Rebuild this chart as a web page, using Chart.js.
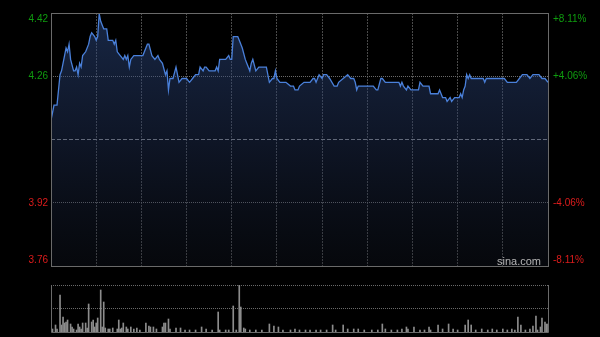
<!DOCTYPE html>
<html>
<head>
<meta charset="utf-8">
<script src="https://cdn.jsdelivr.net/npm/chart.js@4.4.1/dist/chart.umd.min.js"></script>
<style>
body{margin:0;background:#000;}
#wrap{position:relative;width:600px;height:337px;}
canvas{position:absolute;left:0;top:0;}
#logo{position:absolute;left:497px;top:255px;font:11px "Liberation Sans",Arial,sans-serif;color:#b5b5b5;}
</style>
</head>
<body>
<div id="wrap">
<canvas id="volChart" width="600" height="337"></canvas>
<canvas id="priceChart" width="600" height="337"></canvas>
<div id="logo">sina.com</div>
</div>
<script>
// intraday, minutes from open (0..330)
let prevClose=4.09
let pctLevels=[0.0811,0.0406,0,-0.0406,-0.0811]
let leftLabels=['4.42','4.26','','3.92','3.76']
let rightLabels=['+8.11%','+4.06%','','-4.06%','-8.11%']

let minutes=[0,2,4,6,7,9,10,11,12,13,15,16,17,18,19,20,21,23,25,26,27,29,30,31,32,33,35,37,38,41,42,43,44,46,48,49,50,51,52,53,55,61,63,64,65,67,69,71,72,74,76,77,78,79,81,83,85,87,90,92,94,96,98,99,101,102,103,105,109,110,111,112,116,118,119,120,121,124,125,127,129,130,132,133,134,136,138,143,145,147,148,149,150,152,156,159,161,162,164,165,168,172,174,175,176,178,180,181,183,185,188,190,191,194,197,199,201,202,203,204,214,216,217,219,220,222,231,232,233,234,236,237,239,244,245,247,251,252,257,258,259,260,262,263,265,266,268,269,271,272,273,274,275,276,277,278,279,287,288,289,301,303,309,311,313,316,318,320,324,326,328,330]
let prices=[4.14,4.18,4.18,4.26,4.27,4.31,4.33,4.32,4.34,4.30,4.27,4.27,4.28,4.26,4.29,4.28,4.31,4.32,4.34,4.36,4.37,4.36,4.35,4.36,4.42,4.40,4.38,4.38,4.35,4.35,4.34,4.35,4.32,4.31,4.30,4.31,4.30,4.31,4.28,4.30,4.31,4.31,4.33,4.34,4.34,4.31,4.30,4.31,4.30,4.29,4.26,4.27,4.22,4.25,4.25,4.28,4.24,4.25,4.25,4.24,4.25,4.26,4.26,4.28,4.27,4.28,4.28,4.27,4.27,4.28,4.27,4.30,4.30,4.31,4.30,4.30,4.36,4.36,4.35,4.33,4.30,4.29,4.27,4.29,4.30,4.27,4.28,4.28,4.24,4.25,4.25,4.27,4.25,4.24,4.24,4.23,4.23,4.22,4.22,4.23,4.24,4.24,4.25,4.25,4.24,4.26,4.25,4.26,4.26,4.25,4.23,4.23,4.24,4.25,4.26,4.25,4.25,4.24,4.22,4.23,4.23,4.22,4.22,4.25,4.25,4.24,4.24,4.23,4.24,4.23,4.22,4.23,4.22,4.22,4.24,4.23,4.23,4.21,4.21,4.22,4.21,4.20,4.20,4.19,4.20,4.19,4.20,4.20,4.20,4.21,4.20,4.22,4.23,4.26,4.25,4.26,4.25,4.25,4.24,4.25,4.25,4.24,4.24,4.25,4.26,4.26,4.25,4.26,4.26,4.25,4.25,4.24]

let volMinutes=[0,1,3,4,6,7,8,9,10,11,13,14,15,17,18,19,20,21,23,24,25,27,28,29,30,31,33,34,35,36,38,39,41,44,45,46,47,48,50,51,53,55,57,59,63,65,66,68,70,74,75,76,78,79,83,86,89,92,96,100,103,107,111,112,116,118,121,123,125,126,128,129,132,136,140,145,148,151,154,159,162,165,169,172,176,179,183,187,189,194,197,201,204,208,213,217,220,222,226,230,233,236,237,241,245,248,251,252,257,260,264,267,270,275,277,279,282,286,290,293,296,300,303,306,308,310,312,315,318,320,322,323,325,326,328,329,330]
let volumes=[8,3,7,3,37,7,15,9,10,12,8,5,3,2,8,5,3,9,9,4,28,10,12,5,9,14,42,5,30,4,3,3,4,3,12,3,4,9,5,3,5,3,4,2,9,6,5,5,3,5,9,9,13,3,4,4,2,2,2,5,3,2,20,2,2,2,26,2,47,25,4,3,2,2,2,8,6,5,2,2,3,2,2,2,2,2,2,7,2,7,3,3,3,2,2,2,8,3,2,2,3,5,3,5,2,2,5,2,7,3,8,3,2,7,12,7,2,3,2,3,2,3,2,3,2,15,7,2,3,6,16,2,5,14,10,8,8]

let green='#0f9c0f'
let red='#dc1c1c'
let topPrice=prevClose*(1+0.0811)
let bottomPrice=prevClose*(1-0.0811)

let framePlugin={
  id:'frame',
  afterDraw(chart){
    let a=chart.chartArea, c=chart.ctx
    c.save()
    c.strokeStyle='#6a6a6a'
    c.lineWidth=1
    if(chart.canvas.id=='priceChart'){
      c.strokeRect(Math.round(a.left)+0.5,Math.round(a.top)+0.5,Math.round(a.right-a.left),Math.round(a.bottom-a.top))
      let y=chart.scales.y
      c.font='10px "Liberation Sans", Arial, sans-serif'
      c.textBaseline='middle'
      pctLevels.forEach((p,i)=>{
        if(!leftLabels[i]) return
        let py=y.getPixelForValue(prevClose*(1+p))
        py=Math.min(Math.max(py,a.top+6),a.bottom-6)
        c.fillStyle=p>0?green:red
        c.textAlign='right'
        c.fillText(leftLabels[i],a.left-3,py)
        c.textAlign='left'
        c.fillText(rightLabels[i],a.right+5,py)
      })
    }else{
      let l=Math.round(a.left)+0.5, r=Math.round(a.right)+0.5, t=Math.round(a.top), b=Math.round(a.bottom)+0.5
      c.beginPath()
      c.moveTo(l,t);c.lineTo(l,b);c.lineTo(r,b);c.lineTo(r,t)
      c.stroke()
    }
    c.restore()
  }
}

let priceChart=new Chart(document.getElementById('priceChart').getContext('2d'),{
  type:'line',
  data:{
    datasets:[{
      data:minutes.map((m,i)=>({x:m,y:prices[i]})),
      borderColor:'#4a80da',
      borderWidth:1.3,
      pointRadius:0,
      tension:0,
      fill:'start',
      backgroundColor:ctx=>{
        let a=ctx.chart.chartArea
        if(!a) return 'transparent'
        let g=ctx.chart.ctx.createLinearGradient(0,a.top,0,a.bottom)
        g.addColorStop(0,'rgba(48,78,138,0.5)')
        g.addColorStop(0.5,'rgba(36,54,96,0.4)')
        g.addColorStop(1,'rgba(20,26,40,0.3)')
        return g
      }
    }]
  },
  options:{
    responsive:false,
    animation:false,
    layout:{padding:{left:51,right:52,top:13,bottom:71}},
    plugins:{legend:{display:false},tooltip:{enabled:false}},
    scales:{
      x:{
        type:'linear',min:0,max:330,
        ticks:{display:false,stepSize:30},
        grid:{drawTicks:false,color:c=>(c.tick.value%330==0?'transparent':'#4a4a4a')},
        border:{display:false,dash:[2,1]},
        afterFit:s=>{s.height=0}
      },
      y:{
        min:bottomPrice,max:topPrice,
        afterBuildTicks:s=>{s.ticks=pctLevels.map(p=>({value:prevClose*(1+p)}))},
        ticks:{display:false},
        grid:{drawTicks:false,color:c=>{
          let v=c.tick.value
          if(Math.abs(v-prevClose)<0.001) return '#8a8a8a'
          if(v>=topPrice-0.001||v<=bottomPrice+0.001) return 'transparent'
          return '#6a6a6a'
        }},
        border:{display:false,dash:c=>(Math.abs(c.tick.value-prevClose)<0.001?[4,2]:[1,1])},
        afterFit:s=>{s.width=0}
      }
    }
  },
  plugins:[framePlugin]
})

let volChart=new Chart(document.getElementById('volChart').getContext('2d'),{
  type:'bar',
  data:{
    datasets:[{
      data:volMinutes.map((m,i)=>({x:m,y:volumes[i]})),
      backgroundColor:'#8c8c8c',
      barThickness:1
    }]
  },
  options:{
    responsive:false,
    animation:false,
    layout:{padding:{left:51,right:52,top:285,bottom:5}},
    plugins:{legend:{display:false},tooltip:{enabled:false}},
    scales:{
      x:{
        type:'linear',min:0,max:330,offset:false,
        ticks:{display:false},
        grid:{display:false},
        border:{display:false},
        afterFit:s=>{s.height=0}
      },
      y:{
        min:0,max:47,
        afterBuildTicks:s=>{s.ticks=[{value:23.5},{value:47}]},
        ticks:{display:false},
        grid:{drawTicks:false,color:'#6a6a6a'},
        border:{display:false,dash:[1,1]},
        afterFit:s=>{s.width=0}
      }
    }
  },
  plugins:[framePlugin]
})
</script>
</body>
</html>
